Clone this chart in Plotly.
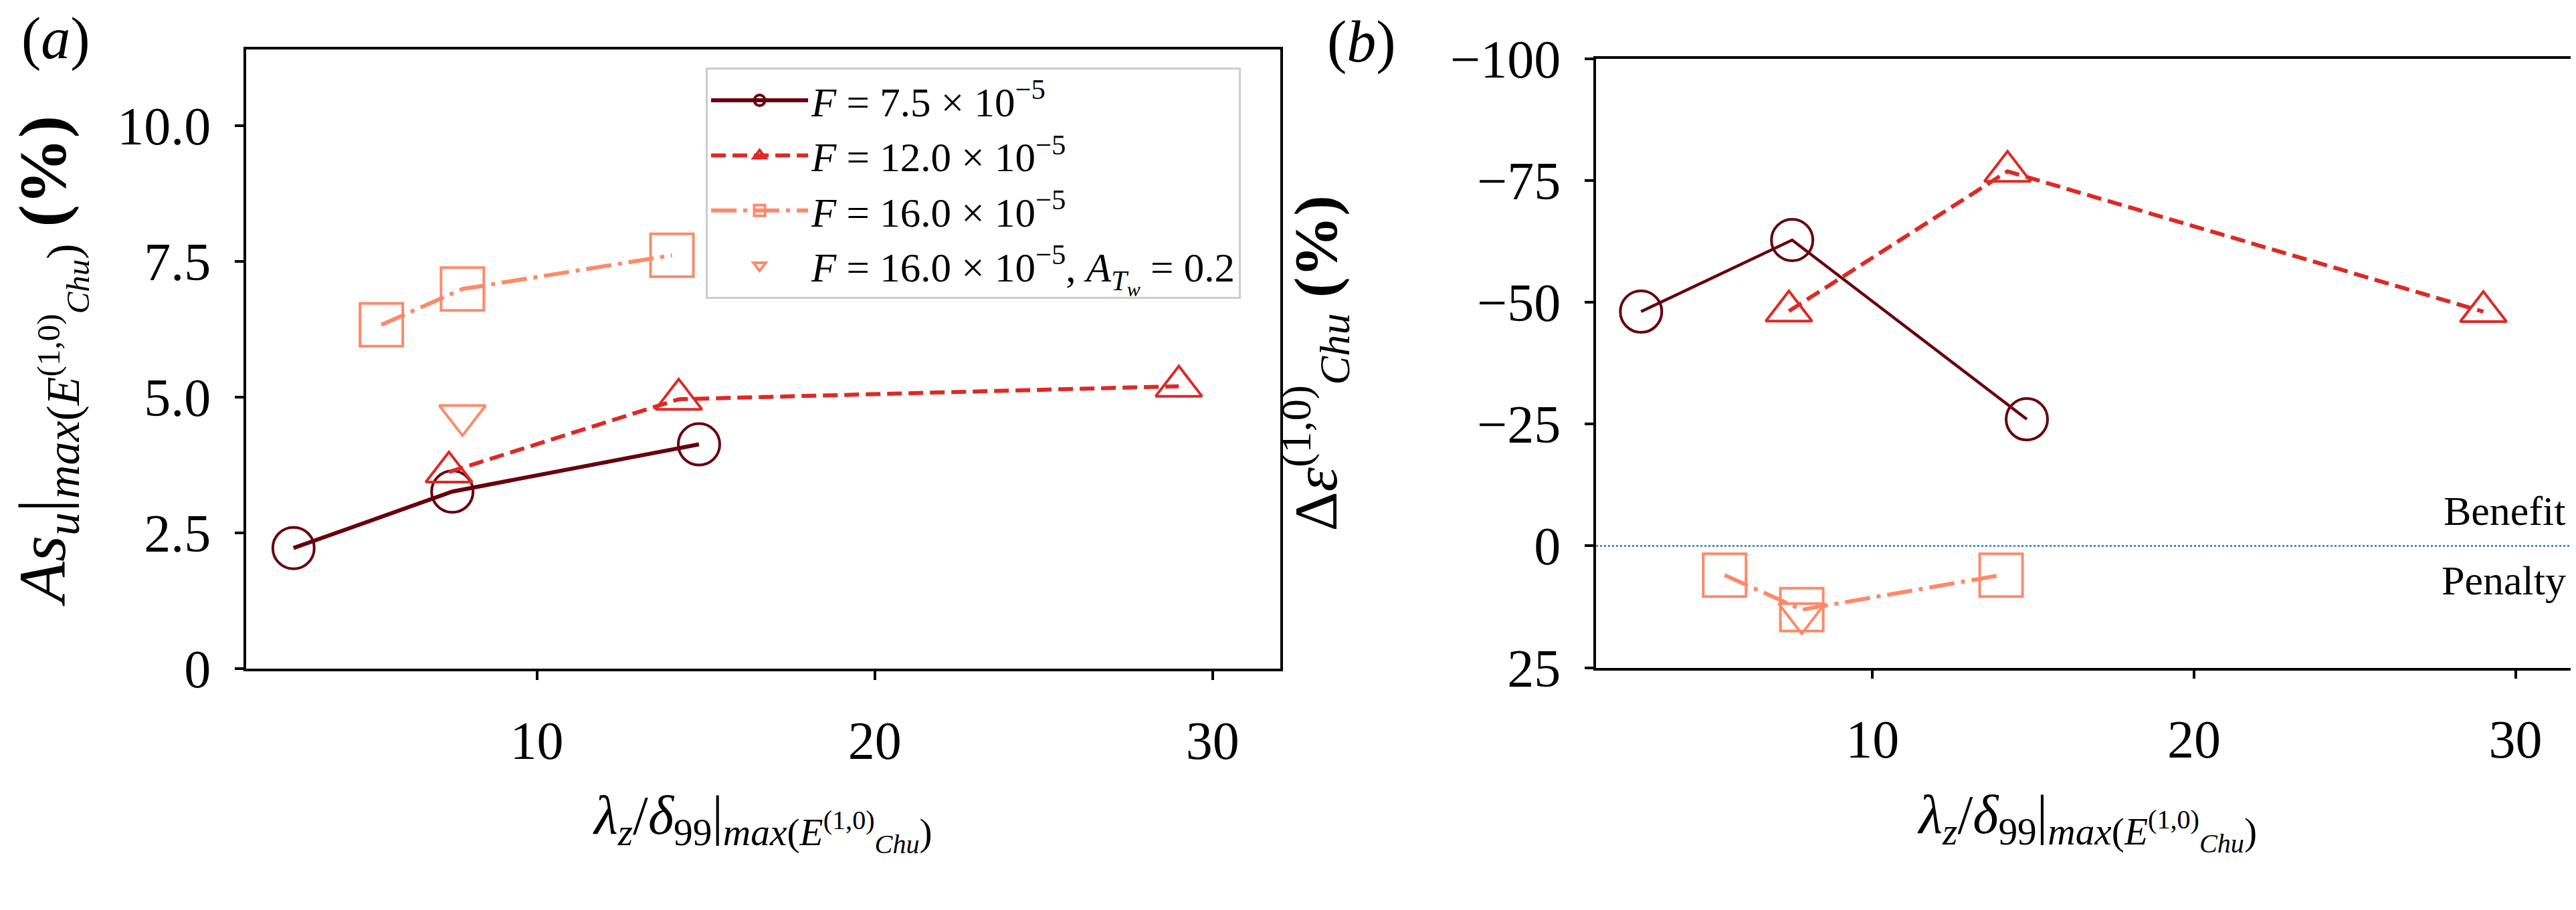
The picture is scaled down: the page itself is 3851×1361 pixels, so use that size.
import plotly.graph_objects as go

# lambda_z / delta_99 at max(E_Chu) for each forcing case
lam_75 = [2.8, 7.5, 14.8]
lam_120 = [7.4, 14.2, 29.0]
lam_160 = [5.4, 7.8, 14.0]
lam_160_atw = [7.8]

# panel (a): As_u at max(E_Chu) (%)
as_75 = [2.22, 3.26, 4.13]
as_120 = [3.62, 4.96, 5.2]
as_160 = [6.33, 6.99, 7.61]
as_160_atw = [4.66]

# panel (b): delta epsilon_Chu (%)
eps_75 = [-48.1, -62.8, -26.0]
eps_120 = [-48.2, -76.9, -48.1]
eps_160 = [6.0, 13.1, 6.0]
eps_160_atw = [13.9]

names = [
    "<i>F</i> = 7.5 × 10<sup>−5</sup>",
    "<i>F</i> = 12.0 × 10<sup>−5</sup>",
    "<i>F</i> = 16.0 × 10<sup>−5</sup>",
    "<i>F</i> = 16.0 × 10<sup>−5</sup>, <i>A</i><sub><i>T<sub>w</sub></i></sub> = 0.2",
]

x_ticks = [10, 20, 30]
ya_ticks = [0, 2.5, 5.0, 7.5, 10.0]
ya_text = ["0", "2.5", "5.0", "7.5", "10.0"]
yb_ticks = [-100, -75, -50, -25, 0, 25]

maroon = "#67000d"
red = "#dc2a25"
salmon = "#fc8a6a"
font = "Liberation Serif"

fig = go.Figure()

# panel (a)
fig.add_trace(go.Scatter(x=lam_75, y=as_75, mode="lines+markers", name=names[0],
                         line=dict(color=maroon, width=6),
                         marker=dict(symbol="circle-open", size=62, color=maroon, line=dict(width=4))))
fig.add_trace(go.Scatter(x=lam_120, y=as_120, mode="lines+markers", name=names[1],
                         line=dict(color=red, width=6, dash="22px,10px"),
                         marker=dict(symbol="triangle-up-open", size=60, color=red, line=dict(width=4))))
fig.add_trace(go.Scatter(x=lam_160, y=as_160, mode="lines+markers", name=names[2],
                         line=dict(color=salmon, width=6, dash="38px,10px,6px,10px"),
                         marker=dict(symbol="square-open", size=64, color=salmon, line=dict(width=4))))
fig.add_trace(go.Scatter(x=lam_160_atw, y=as_160_atw, mode="markers", name=names[3],
                         marker=dict(symbol="triangle-down-open", size=60, color=salmon, line=dict(width=4))))

# panel (b)
fig.add_trace(go.Scatter(x=lam_75, y=eps_75, mode="lines+markers", showlegend=False,
                         xaxis="x2", yaxis="y2",
                         line=dict(color=maroon, width=4.5),
                         marker=dict(symbol="circle-open", size=62, color=maroon, line=dict(width=4))))
fig.add_trace(go.Scatter(x=lam_120, y=eps_120, mode="lines+markers", showlegend=False,
                         xaxis="x2", yaxis="y2",
                         line=dict(color=red, width=6, dash="22px,10px"),
                         marker=dict(symbol="triangle-up-open", size=60, color=red, line=dict(width=4))))
fig.add_trace(go.Scatter(x=lam_160, y=eps_160, mode="lines+markers", showlegend=False,
                         xaxis="x2", yaxis="y2",
                         line=dict(color=salmon, width=6, dash="38px,10px,6px,10px"),
                         marker=dict(symbol="square-open", size=64, color=salmon, line=dict(width=4))))
fig.add_trace(go.Scatter(x=lam_160_atw, y=eps_160_atw, mode="markers", showlegend=False,
                         xaxis="x2", yaxis="y2",
                         marker=dict(symbol="triangle-down-open", size=60, color=salmon, line=dict(width=4))))

x_title = ("<i>λ<sub>z</sub></i>/<i>δ</i><sub>99</sub>|<sub><i>max</i>(<i>E</i>"
           "<sup>(1,0)</sup><sub><i>Chu</i></sub>)</sub>")

axis_common = dict(showline=True, linecolor="black", linewidth=3.5, mirror=True,
                   ticks="outside", ticklen=13, tickwidth=3.5, tickcolor="black",
                   showgrid=False, zeroline=False, automargin=False,
                   tickfont=dict(family=font, size=80, color="black"))

fig.update_layout(
    width=3851, height=1361,
    margin=dict(l=0, r=0, t=0, b=0, pad=0, autoexpand=False),
    plot_bgcolor="white", paper_bgcolor="white",
    font=dict(family=font, color="black"),
    xaxis=dict(axis_common, domain=[0.0935, 0.4949], range=[1.4, 32.0], anchor="y",
               tickvals=x_ticks, ticklabelstandoff=22,
               title=dict(text=x_title, font=dict(size=82), standoff=40)),
    yaxis=dict(axis_common, domain=[0.2711, 0.9515], range=[0, 11.4], anchor="x",
               tickvals=ya_ticks, ticktext=ya_text, ticklabelstandoff=20,
               title=dict(text="<i>As<sub>u</sub></i>|<sub><i>max</i>(<i>E</i><sup>(1,0)</sup>"
                               "<sub><i>Chu</i></sub>)</sub> <b>(%)</b>",
                          font=dict(size=100), standoff=60)),
    xaxis2=dict(axis_common, domain=[0.6175, 0.9994], range=[1.4, 32.0], anchor="y2",
                tickvals=x_ticks, ticklabelstandoff=22,
                title=dict(text=x_title, font=dict(size=82), standoff=40)),
    yaxis2=dict(axis_common, domain=[0.2722, 0.9412], range=[25, -100], anchor="x2",
                tickvals=yb_ticks, ticklabelstandoff=20,
                title=dict(text="Δ<i>ε</i><sup>(1,0)</sup><sub><i>Chu</i></sub> <b>(%)</b>",
                           font=dict(size=92), standoff=140)),
    legend=dict(x=0.2719, y=0.9317, xanchor="left", yanchor="top",
                bgcolor="white", bordercolor="#cccccc", borderwidth=3,
                font=dict(family=font, size=61, color="black"),
                itemwidth=145, tracegroupgap=0),
)

# zero reference line in panel (b)
fig.add_shape(type="line", xref="x2 domain", yref="y2", x0=0, x1=1, y0=0, y1=0,
              line=dict(color="#1f77b4", width=2.5, dash="dot"))

fig.add_annotation(xref="x2 domain", yref="y2", x=0.987, y=0, text="Benefit",
                   showarrow=False, xanchor="right", yanchor="middle", yshift=52,
                   font=dict(family=font, size=62, color="black"))
fig.add_annotation(xref="x2 domain", yref="y2", x=0.987, y=0, text="Penalty",
                   showarrow=False, xanchor="right", yanchor="middle", yshift=-52,
                   font=dict(family=font, size=62, color="black"))

# panel labels
fig.add_annotation(xref="paper", yref="paper", x=75 / 3851, y=1 - 50 / 1361, text="(<i>a</i>)",
                   showarrow=False, xanchor="center", yanchor="middle",
                   font=dict(family=font, size=88, color="black"))
fig.add_annotation(xref="paper", yref="paper", x=2027 / 3851, y=1 - 54 / 1361, text="(<i>b</i>)",
                   showarrow=False, xanchor="center", yanchor="middle",
                   font=dict(family=font, size=88, color="black"))

fig.write_html("out.html")
